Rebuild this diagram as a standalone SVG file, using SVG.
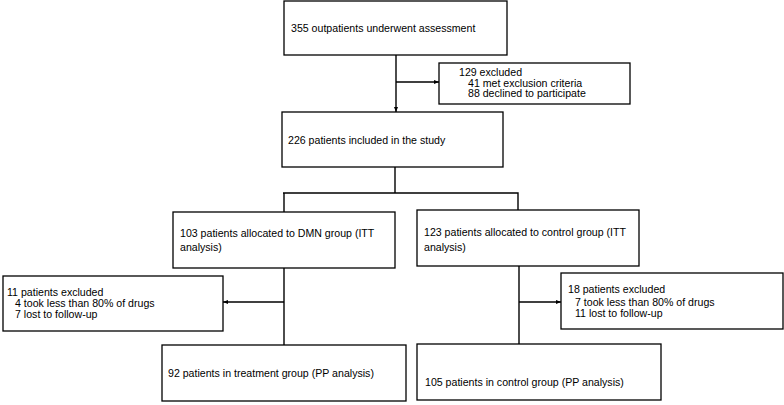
<svg xmlns="http://www.w3.org/2000/svg" width="784" height="405" viewBox="0 0 784 405">
<style>
.box{fill:#fff;stroke:#000;stroke-width:1.3}
.ln{fill:none;stroke:#000;stroke-width:1.4}
text{font-family:"Liberation Sans",Arial,sans-serif;font-size:10.6px;fill:#000}
</style>
<defs>
<marker id="ah" viewBox="0 0 10 10" refX="10" refY="5" markerWidth="5" markerHeight="5" orient="auto" markerUnits="userSpaceOnUse">
<path d="M0,1 L10,5 L0,9 z" fill="#000"/>
</marker>
</defs>
<rect width="784" height="405" fill="#fff"/>
<g id="connectors">
<path class="ln" d="M396,55 V112" marker-end="url(#ah)"/>
<path class="ln" d="M396,82 H439" marker-end="url(#ah)"/>
<path class="ln" d="M395,167 V193 M283,193 H518 M284,192.3 V212 M518,192.3 V210"/>
<path class="ln" d="M284,268 V345"/>
<path class="ln" d="M284,302 H223" marker-end="url(#ah)"/>
<path class="ln" d="M519,266 V344"/>
<path class="ln" d="M519,302 H561" marker-end="url(#ah)"/>
</g>
<g id="n1"><rect class="box" x="284" y="1" width="223" height="54"/><text x="291" y="32">355 outpatients underwent assessment</text></g>
<g id="n2"><rect class="box" x="439" y="63" width="191" height="41"/><text x="459" y="76">129 excluded</text><text x="468" y="86.5">41 met exclusion criteria</text><text x="468" y="97">88 declined to participate</text></g>
<g id="n3"><rect class="box" x="282" y="112" width="221" height="55"/><text x="288" y="144">226 patients included in the study</text></g>
<g id="n4"><rect class="box" x="173" y="212" width="222" height="56"/><text x="180" y="237">103 patients allocated to DMN group (ITT</text><text x="180" y="251">analysis)</text></g>
<g id="n5"><rect class="box" x="417" y="210" width="222" height="56"/><text x="424" y="236">123 patients allocated to control group (ITT</text><text x="424" y="251">analysis)</text></g>
<g id="n6"><rect class="box" x="3" y="276" width="220" height="55"/><text x="7" y="296">11 patients excluded</text><text x="15" y="307">4 took less than 80% of drugs</text><text x="15" y="318">7 lost to follow-up</text></g>
<g id="n7"><rect class="box" x="561" y="273" width="222" height="56"/><text x="568" y="293">18 patients excluded</text><text x="575" y="306">7 took less than 80% of drugs</text><text x="575" y="317">11 lost to follow-up</text></g>
<g id="n8"><rect class="box" x="162" y="345" width="244" height="56"/><text x="168" y="377">92 patients in treatment group (PP analysis)</text></g>
<g id="n9"><rect class="box" x="417" y="344" width="244" height="56"/><text x="425" y="386">105 patients in control group (PP analysis)</text></g>
</svg>
